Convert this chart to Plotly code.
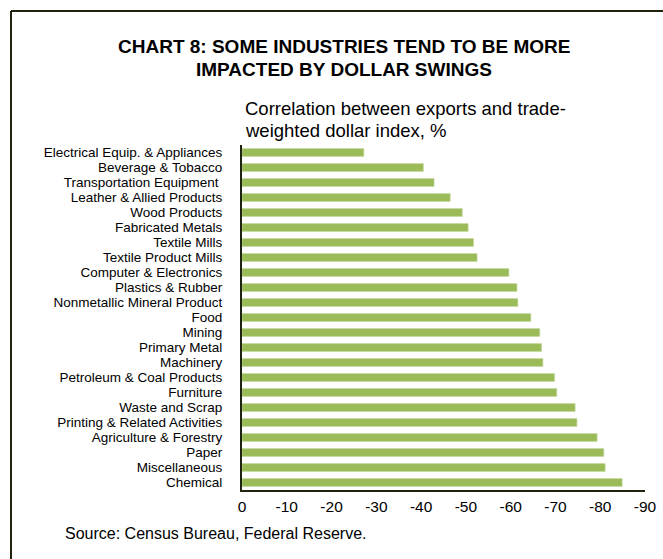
import plotly.graph_objects as go

categories = [
    "Electrical Equip. & Appliances", "Beverage & Tobacco", "Transportation Equipment ",
    "Leather & Allied Products", "Wood Products", "Fabricated Metals", "Textile Mills",
    "Textile Product Mills", "Computer & Electronics", "Plastics & Rubber",
    "Nonmetallic Mineral Product", "Food", "Mining", "Primary Metal", "Machinery",
    "Petroleum & Coal Products", "Furniture", "Waste and Scrap",
    "Printing & Related Activities", "Agriculture & Forestry", "Paper",
    "Miscellaneous", "Chemical",
]
values = [-27.2, -40.5, -42.9, -46.5, -49.2, -50.5, -51.7, -52.5, -59.6, -61.4,
          -61.6, -64.5, -66.5, -66.9, -67.2, -69.8, -70.3, -74.4, -74.8, -79.3,
          -80.8, -81.1, -84.9]
tick_vals = [0, -10, -20, -30, -40, -50, -60, -70, -80, -90]
tick_text = ["0", "-10", "-20", "-30", "-40", "-50", "-60", "-70", "-80", "-90"]
title_lines = ["CHART 8: SOME INDUSTRIES TEND TO BE MORE", "IMPACTED BY DOLLAR SWINGS"]
subtitle_lines = ["Correlation between exports and trade-", "weighted dollar index, %"]
source_text = "Source: Census Bureau, Federal Reserve."

FONT = "Liberation Sans, Arial, sans-serif"
AXIS_COLOR = "#1f2410"

fig = go.Figure(go.Bar(
    x=values, y=categories, orientation="h",
    marker=dict(color="#9bbb59", line=dict(color="#c5d9a0", width=0.6)),
))

W, H = 663, 559
L, R, T, B = 242, 18, 145, 69
pw, ph = W - L - R, H - T - B

def px_x(p):
    return (p - L) / pw

def px_y(p):
    return (H - B - p) / ph

annotations = [
    dict(text="<b>%s</b>" % title_lines[0], xref="paper", yref="paper",
         x=px_x(344), y=px_y(46), xanchor="center", yanchor="middle",
         showarrow=False, font=dict(family=FONT, size=19, color="black")),
    dict(text="<b>%s</b>" % title_lines[1], xref="paper", yref="paper",
         x=px_x(344), y=px_y(70), xanchor="center", yanchor="middle",
         showarrow=False, font=dict(family=FONT, size=19, color="black")),
    dict(text=subtitle_lines[0], xref="paper", yref="paper", x=px_x(243), y=px_y(108),
         xanchor="left", yanchor="middle", align="left", showarrow=False,
         font=dict(family=FONT, size=18.5, color="black")),
    dict(text=subtitle_lines[1], xref="paper", yref="paper", x=px_x(243), y=px_y(130),
         xanchor="left", yanchor="middle", align="left", showarrow=False,
         font=dict(family=FONT, size=18.5, color="black")),
    dict(text=source_text, xref="paper", yref="paper", x=px_x(63), y=px_y(533),
         xanchor="left", yanchor="middle", align="left", showarrow=False,
         font=dict(family=FONT, size=16, color="black")),
]

fig.update_layout(
    width=W, height=H,
    margin=dict(l=L, r=R, t=T, b=B),
    paper_bgcolor="white", plot_bgcolor="white",
    showlegend=False,
    bargap=0.48,
    font=dict(family=FONT, size=13.5, color="black"),
    xaxis=dict(
        range=[0, -90], tickmode="array", tickvals=tick_vals, ticktext=tick_text,
        showgrid=False, zeroline=False, showline=True, linecolor=AXIS_COLOR,
        linewidth=2, ticks="", ticklabelstandoff=1, automargin=False,
        tickfont=dict(family=FONT, size=15.5, color="black"),
    ),
    yaxis=dict(
        autorange="reversed", tickmode="linear", dtick=1, showgrid=False,
        zeroline=False, showline=True, automargin=False,
        linecolor=AXIS_COLOR, linewidth=2, ticks="", ticklabelstandoff=15,
        tickfont=dict(family=FONT, size=13.5, color="black"),
    ),
    annotations=annotations,
    shapes=[
        dict(type="line", xref="paper", yref="paper", x0=px_x(11), x1=px_x(670),
             y0=px_y(11), y1=px_y(11), line=dict(color=AXIS_COLOR, width=2)),
        dict(type="line", xref="paper", yref="paper", x0=px_x(11), x1=px_x(11),
             y0=px_y(11), y1=px_y(570), line=dict(color=AXIS_COLOR, width=2)),
    ],
)

fig.write_html("out.html")
